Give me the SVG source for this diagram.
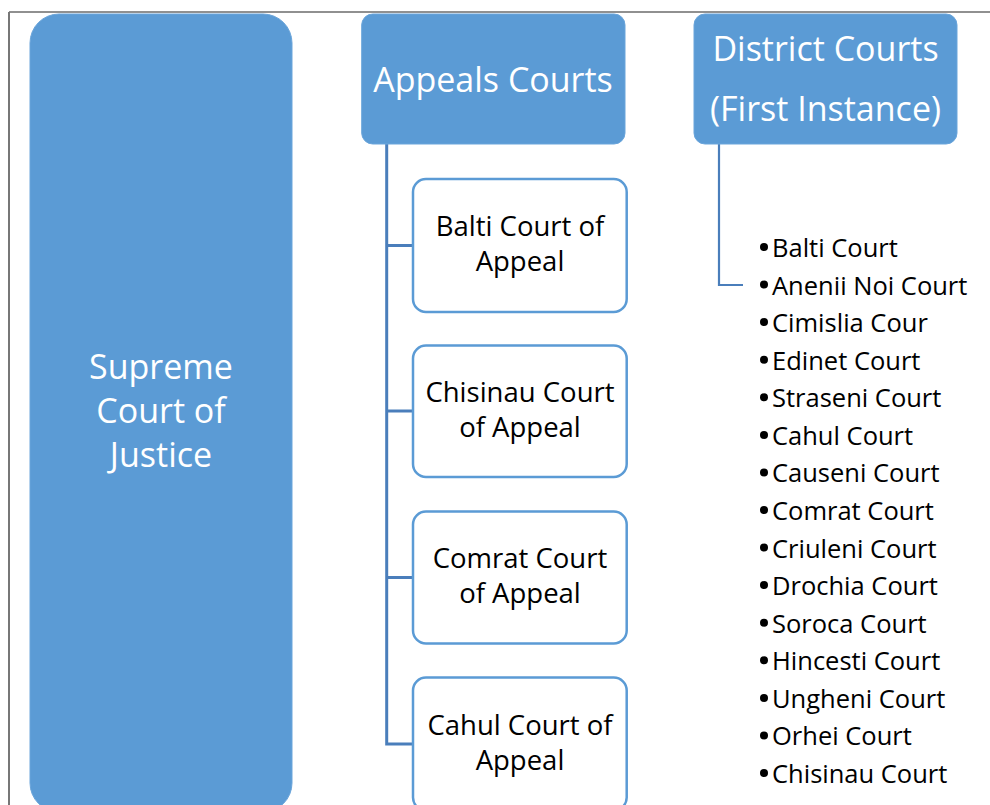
<svg xmlns="http://www.w3.org/2000/svg" width="990" height="805" viewBox="0 0 990 805">
  <style>
    .hdr { fill: #5b9bd5; stroke: #6aa5db; stroke-width: 1; }
    .sub { fill: #ffffff; stroke: #5b9bd5; stroke-width: 2.5; }
    .wt { font-family: "Open Sans", "Liberation Sans", sans-serif; fill: #ffffff; text-anchor: middle; }
    .bk { font-family: "Open Sans", "Liberation Sans", sans-serif; fill: #000000; text-anchor: middle; font-size: 27.5px; }
    .li { font-family: "Open Sans", "Liberation Sans", sans-serif; fill: #000000; font-size: 25.5px; }
    .dot { fill: #000000; }
    .conn { fill: none; stroke: #4a7ebb; stroke-linejoin: miter; }
  </style>

  <rect width="990" height="805" fill="#ffffff"/>

  <!-- page frame -->
  <g id="frame">
    <line x1="9" y1="12" x2="990" y2="12" stroke="#222222" stroke-width="1.2"/>
    <line x1="9" y1="12" x2="9" y2="805" stroke="#777777" stroke-width="2"/>
  </g>

  <!-- connectors -->
  <g id="connectors">
    <path class="conn" stroke-width="3" d="M386.7 144 V744 H413"/>
    <path class="conn" stroke-width="3" d="M386.7 245.5 H413"/>
    <path class="conn" stroke-width="3" d="M386.7 411 H413"/>
    <path class="conn" stroke-width="3" d="M386.7 577.5 H413"/>
    <path class="conn" stroke-width="2.2" d="M719 144 V285 H743"/>
  </g>

  <g id="supreme">
    <rect class="hdr" x="30" y="14" width="262" height="798" rx="29"/>
    <text class="wt" font-size="34" x="161" y="379">Supreme</text>
    <text class="wt" font-size="34" x="161" y="423">Court of</text>
    <text class="wt" font-size="34" x="161" y="467">Justice</text>
  </g>

  <g id="appeals">
    <rect class="hdr" x="361.7" y="14" width="263.3" height="130" rx="11"/>
    <text class="wt" font-size="34" x="493" y="91.5">Appeals Courts</text>
  </g>

  <g id="district">
    <rect class="hdr" x="694" y="14" width="263" height="130" rx="11"/>
    <text class="wt" font-size="34" x="825.5" y="60.5">District Courts</text>
    <text class="wt" font-size="34" x="825.5" y="120.5">(First Instance)</text>
  </g>

  <g id="balti-appeal">
    <rect class="sub" x="413" y="179" width="213.7" height="133" rx="13"/>
    <text class="bk" x="520" y="236">Balti Court of</text>
    <text class="bk" x="520" y="271">Appeal</text>
  </g>

  <g id="chisinau-appeal">
    <rect class="sub" x="413" y="345.5" width="213.7" height="131.5" rx="13"/>
    <text class="bk" x="520" y="402">Chisinau Court</text>
    <text class="bk" x="520" y="437">of Appeal</text>
  </g>

  <g id="comrat-appeal">
    <rect class="sub" x="413" y="511.5" width="213.7" height="132" rx="13"/>
    <text class="bk" x="520" y="568">Comrat Court</text>
    <text class="bk" x="520" y="603">of Appeal</text>
  </g>

  <g id="cahul-appeal">
    <rect class="sub" x="413" y="677.5" width="213.7" height="133" rx="13"/>
    <text class="bk" x="520" y="735">Cahul Court of</text>
    <text class="bk" x="520" y="770">Appeal</text>
  </g>

  <!-- bulleted list of first-instance courts; bullets sit 10px above each baseline -->
  <g id="district-list">
    <g id="bullets">
      <circle class="dot" cx="764" cy="247" r="4"/>
      <circle class="dot" cx="764" cy="284.6" r="4"/>
      <circle class="dot" cx="764" cy="322.1" r="4"/>
      <circle class="dot" cx="764" cy="359.7" r="4"/>
      <circle class="dot" cx="764" cy="397.3" r="4"/>
      <circle class="dot" cx="764" cy="434.9" r="4"/>
      <circle class="dot" cx="764" cy="472.4" r="4"/>
      <circle class="dot" cx="764" cy="510" r="4"/>
      <circle class="dot" cx="764" cy="547.6" r="4"/>
      <circle class="dot" cx="764" cy="585.1" r="4"/>
      <circle class="dot" cx="764" cy="622.7" r="4"/>
      <circle class="dot" cx="764" cy="660.3" r="4"/>
      <circle class="dot" cx="764" cy="697.9" r="4"/>
      <circle class="dot" cx="764" cy="735.4" r="4"/>
      <circle class="dot" cx="764" cy="773" r="4"/>
    </g>
    <text class="li" x="772" y="257">Balti Court</text>
    <text class="li" x="772" y="294.6">Anenii Noi Court</text>
    <text class="li" x="772" y="332.1">Cimislia Cour</text>
    <text class="li" x="772" y="369.7">Edinet Court</text>
    <text class="li" x="772" y="407.3">Straseni Court</text>
    <text class="li" x="772" y="444.9">Cahul Court</text>
    <text class="li" x="772" y="482.4">Causeni Court</text>
    <text class="li" x="772" y="520">Comrat Court</text>
    <text class="li" x="772" y="557.6">Criuleni Court</text>
    <text class="li" x="772" y="595.1">Drochia Court</text>
    <text class="li" x="772" y="632.7">Soroca Court</text>
    <text class="li" x="772" y="670.3">Hincesti Court</text>
    <text class="li" x="772" y="707.9">Ungheni Court</text>
    <text class="li" x="772" y="745.4">Orhei Court</text>
    <text class="li" x="772" y="783">Chisinau Court</text>
  </g>
</svg>
